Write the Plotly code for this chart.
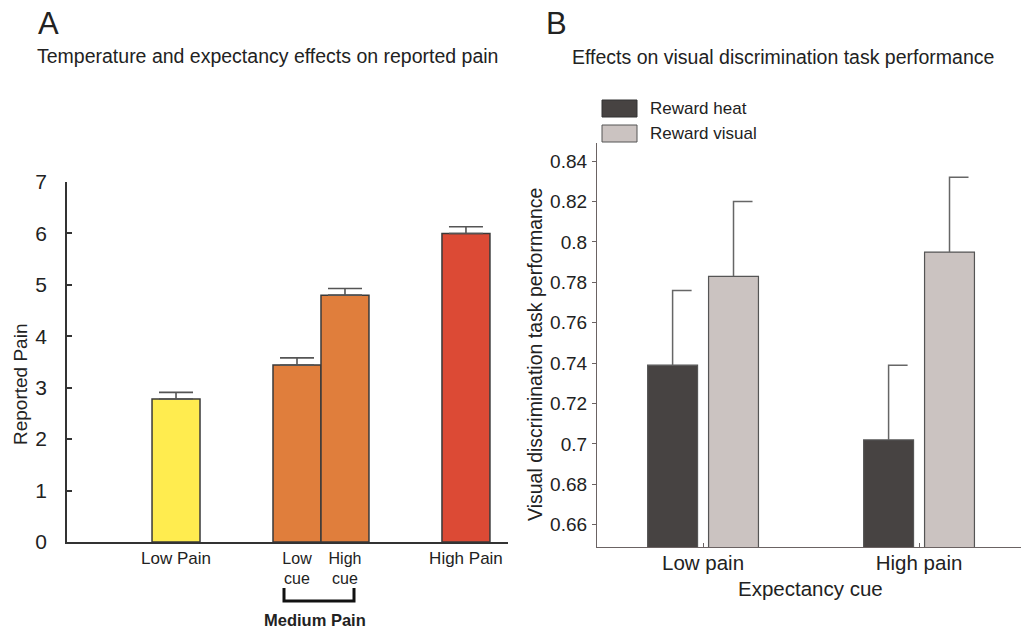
import plotly.graph_objects as go

# ---------------- Data ----------------
# Panel A
pain_labels = ["Low Pain", "Low", "High", "High Pain"]
pain_sublabels = ["", "cue", "cue", ""]
pain_means = [2.78, 3.44, 4.80, 6.00]
pain_sem = [0.13, 0.14, 0.13, 0.13]
pain_colors = ["#FFEC4F", "#E07E3C", "#E07E3C", "#DC4A35"]

# Panel B
cue_labels = ["Low pain", "High pain"]
heat_means = [0.739, 0.702]
heat_err = [0.037, 0.037]
visual_means = [0.783, 0.795]
visual_err = [0.037, 0.037]
series_names = ["Reward heat", "Reward visual"]

FONT = "Liberation Sans, Arial, Helvetica, sans-serif"
W, H = 1021, 630

def px(x):
    return x / W

def py(y):
    return 1 - y / H

# positions (layout)
bar_w_a = 0.331
pos_a = [1, 2 - bar_w_a / 2, 2 + bar_w_a / 2, 3]

bar_w_b = 0.231
off_b = 0.141
cap_b = 0.088
grp_b = [1, 2]

fig = go.Figure()

# Panel A bars
fig.add_trace(go.Bar(
    x=pos_a, y=pain_means, width=bar_w_a,
    marker=dict(color=pain_colors, line=dict(color="#3a3a3a", width=1.5)),
    error_y=dict(type="data", symmetric=False, array=pain_sem,
                 arrayminus=[0] * len(pain_sem), color="#555555",
                 thickness=1.6, width=17),
    xaxis="x", yaxis="y", showlegend=False,
))

# Panel B bars
b_series = [(heat_means, heat_err, "#474342", -off_b),
            (visual_means, visual_err, "#CBC3C1", off_b)]
for (means, errs, col, off), name in zip(b_series, series_names):
    xs = [g + off for g in grp_b]
    fig.add_trace(go.Bar(
        x=xs, y=means, width=bar_w_b, name=name,
        marker=dict(color=col, line=dict(color="#555555", width=1.2)),
        xaxis="x2", yaxis="y2", showlegend=False,
    ))
    ex, ey = [], []
    for x, m, e in zip(xs, means, errs):
        ex += [x, x, x + cap_b, None]
        ey += [m, m + e, m + e, None]
    fig.add_trace(go.Scatter(
        x=ex, y=ey, mode="lines", line=dict(color="#666666", width=1.5),
        xaxis="x2", yaxis="y2", showlegend=False, hoverinfo="skip",
    ))

axis_col = "#333333"
tick_text_a = [lab if not sub else f"<span style='font-size:16px'>{lab}</span>"
               for lab, sub in zip(pain_labels, pain_sublabels)]

fig.update_layout(
    width=W, height=H, autosize=False, showlegend=False,
    margin=dict(l=0, r=0, t=0, b=0, pad=0, autoexpand=False),
    paper_bgcolor="white", plot_bgcolor="white",
    font=dict(family=FONT, color="#222222"),
    barmode="overlay",
    xaxis=dict(domain=[px(67), px(508)], range=[0.248, 3.29], automargin=False,
               showline=True, linecolor=axis_col, linewidth=1.5,
               showgrid=False, zeroline=False, ticks="",
               tickvals=pos_a, ticktext=tick_text_a,
               tickfont=dict(size=17, color="#222222"), anchor="y",
               ticklabelstandoff=0),
    yaxis=dict(domain=[py(542), py(182)], range=[0, 7], dtick=1, automargin=False,
               showline=True, linecolor=axis_col, linewidth=1.5,
               showgrid=False, zeroline=False, ticks="inside", ticklen=5,
               tickwidth=1.5, tickcolor=axis_col,
               tickfont=dict(size=21, color="#222222"), anchor="x",
               ticklabelstandoff=14),
    xaxis2=dict(domain=[px(597), 1.0], range=[0.509, 2.472], automargin=False,
                showline=True, linecolor="#6b6363", linewidth=1.3,
                showgrid=False, zeroline=False, ticks="inside", ticklen=4,
                tickcolor="#6b6363", tickvals=grp_b, ticktext=cue_labels,
                tickfont=dict(size=20.5, color="#222222"), anchor="y2",
                ticklabelstandoff=-3),
    yaxis2=dict(domain=[py(547), py(143)], range=[0.649, 0.849], automargin=False,
                tickvals=[0.66, 0.68, 0.70, 0.72, 0.74, 0.76, 0.78, 0.80, 0.82, 0.84],
                ticktext=["0.66", "0.68", "0.7", "0.72", "0.74", "0.76", "0.78", "0.8", "0.82", "0.84"],
                showline=True, linecolor="#6b6363", linewidth=1.3,
                showgrid=False, zeroline=False, ticks="outside", ticklen=4,
                tickcolor="#6b6363",
                tickfont=dict(size=19, color="#222222"), anchor="x2",
                ticklabelstandoff=1),
)

ann = [
    dict(text="A", x=px(48), y=py(24), font=dict(size=31)),
    dict(text="Temperature and expectancy effects on reported pain",
         x=px(267), y=py(56), font=dict(size=19.5)),
    dict(text="B", x=px(556), y=py(24), font=dict(size=31)),
    dict(text="Effects on visual discrimination task performance",
         x=px(783), y=py(57), font=dict(size=19.5)),
    dict(text="Reported Pain", x=px(20), y=py(385), textangle=-90,
         font=dict(size=19)),
    dict(text="Visual discrimination task performance", x=px(535), y=py(355),
         textangle=-90, font=dict(size=19.5)),
    dict(text="Expectancy cue", x=px(810), y=py(588), font=dict(size=20.5)),
    dict(text="<b>Medium Pain</b>", x=px(315), y=py(620), font=dict(size=16.5)),
    dict(text=series_names[0], x=px(648), y=py(108), xanchor="left",
         font=dict(size=17)),
    dict(text=series_names[1], x=px(648), y=py(133), xanchor="left",
         font=dict(size=17)),
]
for a in ann:
    a.setdefault("xanchor", "center")
    fig.add_annotation(xref="paper", yref="paper", showarrow=False,
                       yanchor="middle", font_family=FONT,
                       font_color="#222222", **{k: v for k, v in a.items()})

# second line of the medium-pain tick labels
for xv, sub in zip(pos_a, pain_sublabels):
    if sub:
        fig.add_annotation(xref="x", yref="paper", x=xv, y=py(578),
                           text=sub, showarrow=False, xanchor="center",
                           yanchor="middle",
                           font=dict(family=FONT, size=16, color="#222222"))

shapes = [
    # bracket under medium pain
    dict(type="path", xref="paper", yref="paper",
         path=f"M {px(284)},{py(588)} L {px(284)},{py(601)} L {px(354)},{py(601)} L {px(354)},{py(588)}",
         line=dict(color="#111111", width=3)),
    # legend boxes
    dict(type="rect", xref="paper", yref="paper", x0=px(602), x1=px(637),
         y0=py(117), y1=py(100), fillcolor="#474342",
         line=dict(color="#333333", width=1)),
    dict(type="rect", xref="paper", yref="paper", x0=px(602), x1=px(637),
         y0=py(142), y1=py(125), fillcolor="#CBC3C1",
         line=dict(color="#555555", width=1)),
]
for s in shapes:
    fig.add_shape(**s)

fig.write_html("out.html")
